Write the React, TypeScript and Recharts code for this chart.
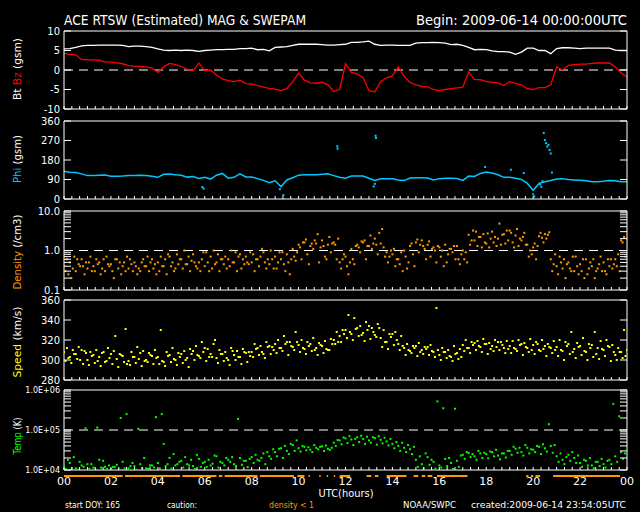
import React from "react";
import { ComposedChart, Line, Scatter, XAxis, YAxis, ReferenceLine } from "recharts";

// 15-minute grid (hours UT) shared by every series
const STEP = 0.25;
const hours = Array.from({ length: 97 }, (_, i) => i * STEP);

const bt = [5.4, 5.5, 5.8, 6.2, 6.3, 6.3, 6.4, 6.4, 6.4, 6.4, 6.3, 6.0, 6.1, 6.1, 6.0, 5.8, 5.4, 5.1, 5.0, 5.1, 5.0, 5.1, 5.0, 4.8, 5.0, 5.1, 5.2, 5.2, 5.3, 5.3, 5.5, 5.5, 5.6, 5.2, 5.3, 4.9, 5.8, 5.9, 6.0, 6.3, 6.6, 6.6, 6.6, 6.6, 6.5, 6.4, 6.4, 6.5, 6.6, 7.1, 7.1, 7.2, 7.4, 6.6, 6.3, 6.4, 6.4, 6.3, 6.3, 6.3, 6.9, 7.0, 7.0, 7.1, 7.0, 6.9, 6.5, 6.6, 6.3, 5.8, 5.2, 5.3, 5.2, 4.9, 4.7, 4.7, 4.6, 4.0, 4.6, 5.6, 5.6, 5.0, 5.0, 4.2, 5.5, 5.7, 5.7, 5.6, 5.5, 5.6, 5.6, 5.6, 5.6, 5.6, 5.1, 5.0, 5.0];
const bz = [4.3, 4.0, 3.9, 2.7, 2.6, 2.6, 2.5, 2.1, 2.0, 1.8, 1.6, 1.1, 1.0, 0.9, 0.8, 0.5, -0.6, 0.8, 1.7, 1.4, 0.9, 0.2, -0.2, 1.8, -0.2, 0.0, -1.3, -2.3, -2.7, -3.0, -2.6, -3.5, -3.6, -4.0, -4.4, -4.7, -4.9, -5.3, -4.8, -3.0, -0.8, -2.6, -3.3, -3.4, -3.1, -3.8, -5.5, -5.0, 1.6, -0.6, -1.0, -2.0, -5.3, -5.6, -3.0, -2.0, -1.5, 0.8, -1.6, -3.2, -3.8, -4.2, -4.3, -5.0, -5.3, -5.0, -4.8, -4.6, -4.4, -0.5, -2.4, -2.5, -3.0, -3.1, -3.3, -4.0, -3.0, -3.5, -3.8, -4.8, -5.0, -4.5, -4.5, -3.8, 0.8, 0.0, 1.2, 1.4, 1.5, 1.5, 1.7, 1.8, 1.8, 1.8, 0.8, -0.8, -1.8];

const phi = [128, 123, 122, 116, 108, 108, 110, 111, 105, 105, 106, 108, 108, 110, 108, 105, 100, 114, 115, 112, 110, 101, 104, 95, 100, 92, 110, 118, 96, 100, 116, 102, 101, 94, 86, 75, 84, 57, 88, 98, 110, 112, 112, 112, 114, 116, 108, 100, 96, 106, 106, 106, 96, 86, 93, 93, 93, 88, 85, 97, 98, 98, 97, 88, 94, 96, 96, 95, 86, 106, 104, 118, 125, 120, 112, 100, 100, 96, 90, 72, 40, 72, 80, 85, 92, 94, 90, 88, 86, 84, 80, 80, 82, 85, 84, 80, 80];
const phiOutT = [5.9, 5.95, 9.2, 9.35, 11.65, 11.66, 13.28, 13.3, 13.2, 13.25, 17.95, 19.05, 19.6, 20.0, 20.05, 20.3, 20.35, 20.4, 20.45, 20.5, 20.55, 20.6, 20.65, 20.7, 20.75, 20.8];
const phiOutV = [55, 48, 45, 18, 243, 232, 292, 282, 58, 70, 148, 135, 120, 22, 12, 68, 56, 82, 305, 272, 258, 242, 250, 226, 210, 122];

// density (/cm3), four interleaved sub-samples per grid step
const densA = [0.4, 0.5, 0.3, 0.6, 0.35, 0.4, 0.5, 0.3, 0.45, 0.6, 0.4, 0.35, 0.5, 0.3, 0.4, 0.6, 0.5, 0.4, 0.7, 0.35, 0.6, 0.45, 0.8, 0.5, 0.4, 0.7, 0.5, 0.6, 0.6, 0.5, 0.8, 0.7, 0.5, 0.6, 0.9, 0.45, 0.7, 0.6, 0.8, 1.1, 1.4, 1.6, 1.3, 1.5, 1.8, 1.4, 1.6, 0.5, 0.7, 1.1, 1.4, 1.6, 1.3, 2.0, 1.5, 0.9, 0.8, 0.6, 1.0, 1.3, 1.6, 1.8, 1.4, 1.2, 1.2, 1.4, 1.1, 1.3, 1.0, 2.5, 1.8, 2.2, 1.5, 3.0, 2.0, 2.6, 3.2, 2.4, 1.8, 1.4, 1.2, 2.3, 2.6, 0.6, 0.4, 0.35, 0.5, 0.3, 0.45, 0.6, 0.4, 0.35, 0.5, 0.4, 0.6, 1.8, 2.0];
const densB = [0.3, 0.2, 0.6, 0.4, 0.5, 0.3, 0.25, 0.7, 0.3, 0.35, 0.5, 0.6, 0.4, 0.5, 0.7, 0.35, 0.3, 0.6, 0.4, 0.8, 0.35, 0.7, 0.5, 0.3, 0.9, 0.35, 0.8, 0.45, 0.4, 0.9, 0.35, 0.5, 0.8, 0.4, 0.5, 1.0, 0.35, 0.9, 0.5, 0.7, 1.2, 1.9, 1.5, 2.6, 1.3, 2.2, 1.4, 0.35, 0.4, 0.6, 1.2, 1.8, 2.4, 1.4, 3.5, 0.5, 1.1, 0.45, 0.7, 1.5, 1.9, 1.3, 1.7, 1.0, 0.7, 0.5, 0.9, 0.6, 0.6, 1.4, 3.0, 1.2, 2.7, 1.6, 4.8, 1.5, 2.8, 3.5, 2.2, 0.7, 1.5, 2.8, 2.0, 0.3, 0.25, 0.6, 0.35, 0.7, 0.3, 0.25, 0.6, 0.45, 0.3, 0.6, 0.4, 1.6, 1.5];
const densC = [0.6, 0.35, 0.45, 0.25, 0.7, 0.6, 0.35, 0.45, 0.2, 0.5, 0.3, 0.45, 0.25, 0.6, 0.3, 0.45, 0.7, 0.25, 0.5, 0.45, 1.0, 0.3, 0.4, 0.6, 0.5, 1.0, 0.3, 0.7, 1.0, 0.3, 0.6, 0.45, 0.3, 0.7, 0.35, 0.6, 0.5, 0.45, 0.25, 0.55, 0.6, 0.8, 1.1, 0.5, 0.7, 0.9, 0.6, 0.6, 0.25, 0.45, 0.9, 0.6, 1.1, 0.8, 1.2, 0.7, 0.4, 0.9, 0.35, 0.8, 0.9, 1.1, 0.7, 0.5, 1.0, 0.8, 1.3, 0.45, 0.9, 1.8, 1.3, 2.6, 1.2, 2.2, 1.4, 3.2, 1.6, 1.3, 2.8, 1.0, 0.6, 2.1, 2.5, 0.45, 0.7, 0.2, 0.3, 0.4, 0.6, 0.35, 0.2, 0.7, 0.25, 0.35, 0.8, 2.2, 0.5];
const densD = [0.25, 0.7, 0.4, 0.5, 0.3, 0.45, 0.6, 0.4, 0.6, 0.25, 0.7, 0.3, 0.35, 0.4, 0.5, 0.25, 0.4, 0.8, 0.3, 0.6, 0.45, 0.55, 0.35, 0.9, 0.3, 0.45, 0.6, 0.35, 0.5, 0.7, 0.45, 0.9, 0.6, 1.1, 0.6, 0.35, 0.9, 0.3, 0.6, 0.9, 1.6, 0.45, 1.8, 1.2, 0.6, 1.5, 2.0, 0.8, 0.5, 1.3, 1.7, 1.3, 1.5, 2.8, 0.7, 1.0, 0.6, 0.3, 0.5, 0.4, 1.4, 0.6, 1.1, 1.3, 0.4, 1.1, 0.6, 0.8, 0.5, 3.2, 2.2, 1.6, 2.0, 1.3, 2.5, 1.8, 1.2, 2.0, 1.4, 0.8, 1.3, 1.6, 2.9, 0.8, 0.5, 0.45, 0.7, 0.25, 0.2, 0.5, 0.3, 0.3, 0.6, 0.45, 0.3, 0.7, 1.7];

// bulk speed (km/s)
const speedA = [308, 303, 306, 310, 300, 305, 303, 298, 306, 301, 304, 299, 303, 307, 300, 304, 303, 298, 305, 300, 306, 302, 309, 304, 312, 306, 302, 306, 300, 305, 303, 307, 308, 312, 306, 314, 316, 312, 318, 313, 315, 311, 316, 312, 314, 310, 320, 324, 330, 326, 332, 327, 334, 325, 322, 318, 326, 316, 312, 309, 314, 310, 313, 308, 305, 308, 303, 307, 315, 312, 317, 313, 316, 314, 318, 312, 314, 311, 316, 312, 315, 310, 314, 312, 313, 309, 316, 311, 314, 308, 315, 312, 310, 313, 305, 308, 310];
const speedB = [299, 297, 301, 296, 295, 297, 294, 299, 296, 293, 298, 295, 297, 294, 298, 296, 296, 294, 298, 295, 297, 293, 300, 302, 299, 303, 297, 299, 295, 300, 296, 298, 303, 305, 302, 306, 307, 309, 305, 310, 308, 306, 309, 305, 307, 310, 316, 318, 322, 320, 324, 319, 321, 323, 313, 311, 315, 310, 305, 307, 304, 306, 305, 303, 300, 302, 299, 301, 309, 307, 310, 308, 306, 309, 310, 307, 307, 309, 305, 308, 306, 309, 304, 307, 304, 300, 306, 302, 305, 300, 303, 301, 304, 299, 300, 302, 298];
const speedC = [312, 310, 313, 309, 308, 310, 307, 312, 309, 306, 331, 308, 313, 309, 307, 310, 330, 308, 312, 307, 309, 311, 314, 318, 311, 316, 310, 308, 312, 309, 311, 308, 316, 314, 318, 313, 320, 324, 318, 328, 320, 318, 322, 317, 319, 321, 328, 330, 345, 342, 334, 338, 332, 336, 330, 326, 328, 324, 316, 314, 317, 313, 315, 352, 312, 310, 314, 311, 320, 318, 319, 321, 317, 320, 318, 319, 319, 320, 317, 321, 318, 320, 316, 319, 320, 318, 328, 317, 322, 316, 328, 319, 320, 315, 312, 330, 336];
const speedD = [302, 306, 300, 307, 304, 299, 308, 302, 324, 305, 296, 303, 301, 299, 305, 302, 299, 304, 301, 303, 300, 306, 305, 308, 303, 320, 306, 302, 309, 303, 308, 304, 311, 308, 313, 310, 312, 316, 314, 318, 312, 314, 310, 315, 311, 316, 318, 326, 328, 331, 325, 330, 328, 332, 318, 323, 320, 314, 310, 312, 308, 311, 309, 310, 308, 304, 306, 303, 312, 315, 314, 316, 311, 313, 315, 311, 312, 315, 313, 310, 316, 311, 313, 310, 310, 314, 308, 313, 309, 312, 306, 311, 314, 308, 308, 304, 311];

// proton temperature (K)
const tempA = [12000, 15000, 11000, 13000, 14000, 11500, 18000, 12000, 10500, 13500, 16000, 11000, 12500, 14000, 11000, 13000, 15000, 45000, 20000, 13000, 17000, 14000, 12500, 19000, 16000, 13000, 22000, 15000, 18000, 14000, 20000, 17000, 21000, 18000, 26000, 22000, 28000, 35000, 30000, 42000, 35000, 38000, 32000, 36000, 39000, 34000, 48000, 55000, 62000, 58000, 66000, 60000, 55000, 63000, 57000, 52000, 45000, 40000, 36000, 33000, 18000, 14000, 21000, 16000, 13000, 19000, 15000, 17000, 24000, 27000, 22000, 26000, 25000, 28000, 23000, 26000, 30000, 34000, 28000, 36000, 32000, 38000, 35000, 40000, 22000, 18000, 24000, 20000, 15000, 17000, 13000, 16000, 14000, 18000, 22000, 28000, 30000];
const tempB = [10500, 11000, 10200, 12000, 10800, 10400, 11500, 10600, 11800, 10300, 10900, 12500, 10200, 11200, 10700, 11600, 11000, 12500, 10800, 14000, 11500, 13000, 10600, 12000, 12000, 14500, 11500, 13000, 16000, 12500, 13500, 11800, 15000, 17000, 14000, 19000, 22000, 20000, 25000, 30000, 29000, 31000, 28000, 33000, 30000, 32000, 40000, 44000, 47000, 42000, 50000, 45000, 48000, 43000, 46000, 41000, 35000, 30000, 28000, 25000, 12000, 11000, 13500, 10800, 11500, 12500, 10600, 12000, 19000, 21000, 18000, 20000, 19500, 22000, 18500, 20500, 24000, 27000, 23000, 26000, 28000, 25000, 29000, 27000, 16000, 14000, 17000, 15000, 12000, 13000, 11000, 12500, 11500, 14000, 16000, 19000, 24000];
const tempC = [18000, 21000, 16000, 110000, 14000, 115000, 17000, 13000, 12000, 200000, 250000, 15000, 107000, 20000, 13000, 210000, 250000, 14000, 25000, 16000, 21000, 18000, 24000, 15000, 18000, 23000, 16000, 20000, 21000, 190000, 17000, 19000, 24000, 20000, 28000, 33000, 34000, 40000, 45000, 55000, 40000, 37000, 42000, 38000, 41000, 36000, 56000, 65000, 70000, 60000, 72000, 68000, 66000, 70000, 64000, 60000, 50000, 48000, 42000, 38000, 22000, 26000, 18000, 520000, 350000, 20000, 340000, 23000, 28000, 25000, 30000, 27000, 29000, 32000, 26000, 30000, 38000, 36000, 42000, 33000, 40000, 44000, 140000, 42000, 26000, 21000, 28000, 23000, 18000, 20000, 16000, 19000, 17000, 450000, 220000, 26000, 19000];

// hours where density < 1 (caution bar)
const cautionSpans = [[0, 2.5], [2.6, 4.95], [5.05, 6.5], [6.6, 6.75], [6.85, 8.25], [8.35, 9.8], [9.95, 10.25], [10.42, 10.48], [10.88, 10.94], [11.2, 11.26], [11.5, 11.56], [11.75, 12.2], [12.9, 13.1], [13.25, 13.4], [13.75, 14.6], [14.9, 15.1], [15.25, 15.4], [15.5, 15.7], [15.9, 17.2], [19.7, 19.8], [19.9, 20.0], [20.1, 20.3], [20.85, 23.7]];

const bzTicks = [-10, -5, 0, 5, 10];
const phiTicks = [0, 90, 180, 270, 360];
const densTicks = [0.1, 0.2, 0.3, 0.4, 0.5, 0.6, 0.7, 0.8, 0.9, 1, 2, 3, 4, 5, 6, 7, 8, 9, 10];
const speedTicks = [280, 300, 320, 340, 360];
const tempTicks = [1e4, 2e4, 3e4, 4e4, 5e4, 6e4, 7e4, 8e4, 9e4, 1e5, 2e5, 3e5, 4e5, 5e5, 6e5, 7e5, 8e5, 9e5, 1e6];
const hourTicks = Array.from({ length: 73 }, (_, i) => i / 3);

const FRAME = "#ffffff";
const RED = "#ff0000";
const CYAN = "#00c8ff";
const ORANGE = "#ff9900";
const YELLOW = "#ffff00";
const GREEN = "#00ff00";
const FONT = "'DejaVu Sans', sans-serif";

const series = (vals: number[], offset = 0) => vals.map((v, i) => ({ t: hours[i] + offset, v }));
const pairs = (ts: number[], vs: number[]) => ts.map((t, i) => ({ t, v: vs[i] }));
const cautionData = cautionSpans.flatMap(([a, b]) => [{ t: a, v: 0 }, { t: b, v: 0 }, { t: b, v: null }]);

function XTick(props: any) {
  const { x, y, payload, top, labels } = props;
  const v = payload.value;
  const even = Math.abs(v / 2 - Math.round(v / 2)) < 1e-6;
  return (
    <g>
      <line x1={x} x2={x} y1={y} y2={top ? y + 3 : y - 3} stroke={FRAME} />
      {labels && even && (
        <text x={x} y={y + 15} textAnchor="middle" fill={FRAME} fontSize={11} fontFamily={FONT}>
          {String(Math.round(v) % 24).padStart(2, "0")}
        </text>
      )}
    </g>
  );
}

function YTick(props: any) {
  const { x, y, payload, right, fmt, size } = props;
  const label = fmt ? fmt(payload.value) : "";
  return (
    <g>
      <line x1={x} x2={right ? x - 7 : x + 7} y1={y} y2={y} stroke={FRAME} />
      {!right && label && (
        <text x={x - 4} y={y} dy="0.36em" textAnchor="end" fill={FRAME} fontSize={size || 10} fontFamily={FONT}>
          {label}
        </text>
      )}
    </g>
  );
}

const PAD = 7; // room above/below the frame for edge tick labels

function Panel({ top, height, domain, ticks, log, fmt, size, xLabels, children }: any) {
  const bottomH = xLabels ? 24 : 1;
  const bottomPad = xLabels ? 0 : PAD;
  const scale = log ? "log" : "linear";
  return (
    <div style={{ position: "absolute", left: 0, top: top - 1 - PAD }}>
      <ComposedChart width={640} height={PAD + height + 1 + bottomH + bottomPad}
        margin={{ top: PAD, right: 0, bottom: bottomPad, left: 0 }}>
        <XAxis xAxisId="b" type="number" dataKey="t" domain={[0, 24]} ticks={hourTicks} interval={0} allowDataOverflow
          height={bottomH} tickSize={0} tickMargin={0} tickLine={false} axisLine={{ stroke: FRAME }}
          tick={(p: any) => <XTick {...p} labels={xLabels} />} />
        <XAxis xAxisId="t" orientation="top" type="number" domain={[0, 24]} ticks={hourTicks} interval={0} allowDataOverflow
          height={1} tickSize={0} tickMargin={0} tickLine={false} axisLine={{ stroke: FRAME }}
          tick={(p: any) => <XTick {...p} top />} />
        <YAxis yAxisId="l" type="number" dataKey="v" scale={scale} domain={domain} ticks={ticks} interval={0} allowDataOverflow
          width={64} tickSize={0} tickMargin={0} tickLine={false} axisLine={{ stroke: FRAME }}
          tick={(p: any) => <YTick {...p} fmt={fmt} size={size} />} />
        <YAxis yAxisId="r" orientation="right" type="number" scale={scale} domain={domain} ticks={ticks} interval={0} allowDataOverflow
          width={13} tickSize={0} tickMargin={0} tickLine={false} axisLine={{ stroke: FRAME }}
          tick={(p: any) => <YTick {...p} right />} />
        {children}
      </ComposedChart>
    </div>
  );
}

const dot = (color: string) => (p: any) => <rect x={p.cx - 1} y={p.cy - 1} width={2} height={2} fill={color} />;

function YLabel({ cy, parts, len }: any) {
  return (
    <text transform={`translate(21, ${cy}) rotate(-90)`} textAnchor="middle" fontSize={11} fontFamily={FONT}
      textLength={len} lengthAdjust="spacingAndGlyphs">
      {parts.map(([s, c]: any, i: number) => (
        <tspan key={i} fill={c}>{s}</tspan>
      ))}
    </text>
  );
}

const densLabel = (v: number) => (v === 0.1 ? "0.1" : v === 1 ? "1.0" : v === 10 ? "10.0" : "");
const tempLabel = (v: number) => (v === 1e4 ? "1.0E+04" : v === 1e5 ? "1.0E+05" : v === 1e6 ? "1.0E+06" : "");

export default function App() {
  const sc = (vals: number[], off: number, color: string) => (
    <Scatter xAxisId="b" yAxisId="l" data={series(vals, off)} dataKey="v" shape={dot(color)} isAnimationActive={false} />
  );
  return (
    <div style={{ position: "absolute", left: 0, top: 0, width: 640, height: 512, background: "#000", overflow: "hidden" }}>
      <Panel top={31} height={78} domain={[-10, 10]} ticks={bzTicks} fmt={(v: number) => String(v)}>
        <ReferenceLine xAxisId="b" yAxisId="l" y={0} stroke={FRAME} strokeDasharray="9 6" />
        <Line xAxisId="b" yAxisId="l" data={series(bt)} dataKey="v" stroke={FRAME} strokeWidth={1.3} dot={false} isAnimationActive={false} />
        <Line xAxisId="b" yAxisId="l" data={series(bz)} dataKey="v" stroke={RED} strokeWidth={1.3} dot={false} isAnimationActive={false} />
      </Panel>

      <Panel top={121} height={78} domain={[0, 360]} ticks={phiTicks} fmt={(v: number) => String(v)}>
        <Line xAxisId="b" yAxisId="l" data={series(phi)} dataKey="v" stroke={CYAN} strokeWidth={1.5} dot={false} isAnimationActive={false} />
        <Scatter xAxisId="b" yAxisId="l" data={pairs(phiOutT, phiOutV)} dataKey="v" shape={dot(CYAN)} isAnimationActive={false} />
      </Panel>

      <Panel top={211} height={79} domain={[0.1, 10]} ticks={densTicks} log fmt={densLabel}>
        <ReferenceLine xAxisId="b" yAxisId="l" y={1} stroke={FRAME} strokeDasharray="9 6" />
        {sc(densA, 0, ORANGE)}
        {sc(densB, 0.0625, ORANGE)}
        {sc(densC, 0.125, ORANGE)}
        {sc(densD, 0.1875, ORANGE)}
      </Panel>

      <Panel top={300} height={80} domain={[280, 360]} ticks={speedTicks} fmt={(v: number) => String(v)}>
        {sc(speedA, 0, YELLOW)}
        {sc(speedB, 0.0625, YELLOW)}
        {sc(speedC, 0.125, YELLOW)}
        {sc(speedD, 0.1875, YELLOW)}
      </Panel>

      <Panel top={390} height={80} domain={[1e4, 1e6]} ticks={tempTicks} log fmt={tempLabel} size={8} xLabels>
        <ReferenceLine xAxisId="b" yAxisId="l" y={1e5} stroke={FRAME} strokeDasharray="9 6" />
        {sc(tempA, 0, GREEN)}
        {sc(tempB, 0.083, GREEN)}
        {sc(tempC, 0.167, GREEN)}
      </Panel>

      <div style={{ position: "absolute", left: 0, top: 474 }}>
        <ComposedChart width={640} height={4} margin={{ top: 0, right: 13, bottom: 0, left: 64 }}>
          <XAxis type="number" dataKey="t" domain={[0, 24]} hide />
          <YAxis type="number" domain={[-1, 1]} hide />
          <Line data={cautionData} dataKey="v" stroke={ORANGE} strokeWidth={2} dot={false} connectNulls={false} isAnimationActive={false} />
        </ComposedChart>
      </div>

      <svg width={640} height={512} style={{ position: "absolute", left: 0, top: 0, pointerEvents: "none" }}>
        <text x={64} y={25} fill={FRAME} fontSize={14} fontFamily={FONT} textLength={242} lengthAdjust="spacingAndGlyphs">
          ACE RTSW (Estimated) MAG &amp; SWEPAM
        </text>
        <text x={416} y={25} fill={FRAME} fontSize={14} fontFamily={FONT} textLength={211} lengthAdjust="spacingAndGlyphs">
          Begin: 2009-06-14 00:00:00UTC
        </text>
        <YLabel cy={69} len={62} parts={[["Bt  ", FRAME], ["Bz", RED], ["  (gsm)", FRAME]]} />
        <YLabel cy={159} len={48} parts={[["Phi", CYAN], ["  (gsm)", FRAME]]} />
        <YLabel cy={252} len={75} parts={[["Density", ORANGE], ["  (/cm3)", FRAME]]} />
        <YLabel cy={342} len={71} parts={[["Speed", YELLOW], ["  (km/s)", FRAME]]} />
        <YLabel cy={436} len={37} parts={[["Temp", GREEN], ["  (K)", FRAME]]} />
        <text x={346} y={497} textAnchor="middle" fill={FRAME} fontSize={11} fontFamily={FONT} textLength={55} lengthAdjust="spacingAndGlyphs">
          UTC(hours)
        </text>
        <text x={65} y={508} fill={FRAME} fontSize={9} fontFamily={FONT} textLength={55} lengthAdjust="spacingAndGlyphs">start DOY: 165</text>
        <text x={167} y={508} fill={FRAME} fontSize={9} fontFamily={FONT} textLength={30} lengthAdjust="spacingAndGlyphs">caution:</text>
        <text x={269} y={508} fill={ORANGE} fontSize={9} fontFamily={FONT} textLength={45} lengthAdjust="spacingAndGlyphs">density &lt; 1</text>
        <text x={403} y={508} fill={FRAME} fontSize={9} fontFamily={FONT} textLength={53} lengthAdjust="spacingAndGlyphs">NOAA/SWPC</text>
        <text x={471} y={508} fill={FRAME} fontSize={9} fontFamily={FONT} textLength={155} lengthAdjust="spacingAndGlyphs">created:2009-06-14 23:54:05UTC</text>
      </svg>
    </div>
  );
}
